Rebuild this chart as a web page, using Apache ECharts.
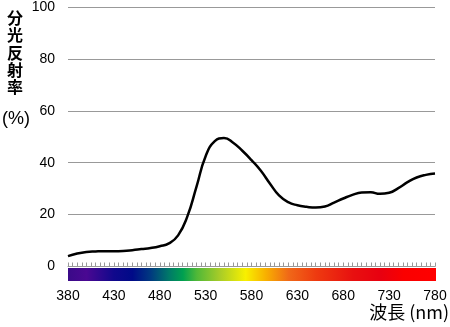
<!DOCTYPE html>
<html><head><meta charset="utf-8">
<script src="https://cdn.jsdelivr.net/npm/echarts@6/dist/echarts.min.js"></script>
<style>html,body{margin:0;padding:0;background:#fff}#c{width:450px;height:327px}</style>
</head><body><div id="c"></div>
<script>
// Data
const wavelengths = [380,390,400,410,420,430,440,450,460,470,480,490,500,510,520,530,540,550,560,570,580,590,600,610,620,630,640,650,660,670,680,690,700,710,720,730,740,750,760,770,780];
const reflectance = [4.0,5.0,5.6,5.8,5.9,5.9,6.0,6.3,6.7,7.1,7.8,8.9,12.0,19.2,30.7,42.5,48.3,49.5,47.7,44.6,41.0,37.0,32.0,27.4,24.8,23.6,23.0,22.7,23.1,24.6,26.2,27.6,28.5,28.6,28.0,28.4,30.2,32.5,34.3,35.3,35.8];
const xTicks = [380,430,480,530,580,630,680,730,780];
const yTicks = [0,20,40,60,80,100];
const spectrumBand = [[380,1],[780,1]];

const spectrumStops = [
  [0,'#3a0a88'],[0.05,'#4a0892'],[0.125,'#10088c'],[0.175,'#000a88'],[0.225,'#003a80'],
  [0.275,'#007a68'],[0.3125,'#00a050'],[0.35,'#50b838'],[0.4125,'#a8cc28'],[0.4825,'#f8f000'],
  [0.5375,'#f8b000'],[0.6,'#f06818'],[0.675,'#ee3a10'],[0.775,'#e81010'],[0.85,'#e80010'],
  [0.9125,'#fa0000'],[1,'#ff0000']
];

const font = '"Liberation Sans", Arial, sans-serif';
const cjk = '"Noto Sans CJK JP", "Noto Sans CJK SC", sans-serif';
const chart = echarts.init(document.getElementById('c'), null, {renderer:'canvas'});
chart.setOption({
  animation:false,
  title:[
    {text:'分\n光\n反\n射\n率', left:7, top:9, padding:0, textStyle:{fontFamily:cjk, fontSize:16, fontWeight:'bold', lineHeight:17.4, color:'#000'}},
    {text:'(%)', left:2, top:110, padding:0, textStyle:{fontFamily:font, fontSize:18, fontWeight:'normal', color:'#000'}},
    {text:'波長 (nm)', right:1, top:303, padding:0, textStyle:{fontFamily:cjk, fontSize:18, fontWeight:'normal', color:'#000'}}
  ],
  grid:[
    {left:68, right:15, top:6.5, height:260},
    {left:68, right:14, top:268, height:13}
  ],
  xAxis:[
    {type:'value', gridIndex:0, min:xTicks[0], max:xTicks[xTicks.length-1], interval:50,
     axisLine:{show:true, lineStyle:{color:'#999', width:1}},
     axisTick:{show:true, inside:true, length:4, lineStyle:{color:'#999'}},
     minorTick:{show:true, splitNumber:10, length:4, lineStyle:{color:'#999'}},
     splitLine:{show:false},
     axisLabel:{margin:23, fontFamily:font, fontSize:14, color:'#000'}},
    {type:'value', gridIndex:1, min:380, max:780, show:false}
  ],
  yAxis:[
    {type:'value', gridIndex:0, min:yTicks[0], max:yTicks[yTicks.length-1], interval:20,
     axisLine:{show:false}, axisTick:{show:false},
     splitLine:{show:true, lineStyle:{color:'#999', width:1}},
     axisLabel:{margin:13, fontFamily:font, fontSize:14, color:'#000'}},
    {type:'value', gridIndex:1, min:0, max:1, show:false}
  ],
  series:[
    {type:'line', xAxisIndex:1, yAxisIndex:1, data:spectrumBand, symbol:'none',
     lineStyle:{width:0}, silent:true,
     areaStyle:{opacity:1, color:new echarts.graphic.LinearGradient(0,0,1,0,
       spectrumStops.map(s=>({offset:s[0], color:s[1]})))}},
    {type:'line', xAxisIndex:0, yAxisIndex:0, data:wavelengths.map((w,i)=>[w,reflectance[i]]),
     symbol:'none', smooth:0.5, lineStyle:{color:'#000', width:2.5}}
  ]
});
</script>
</body></html>
